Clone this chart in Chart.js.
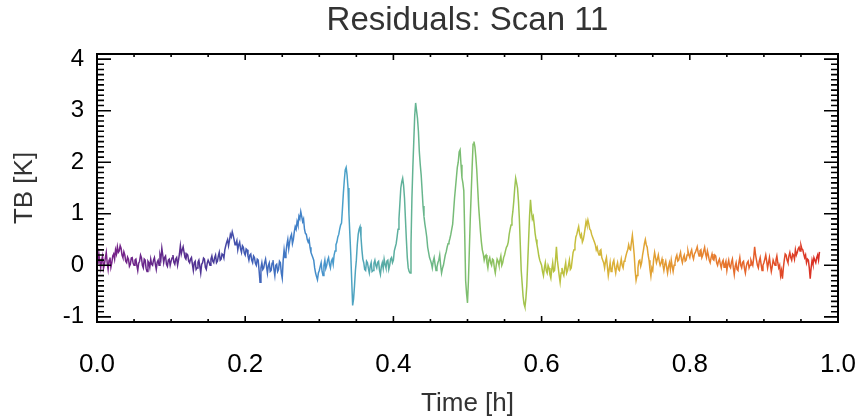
<!DOCTYPE html>
<html>
<head>
<meta charset="utf-8">
<script src="https://cdn.jsdelivr.net/npm/chart.js@4"></script>
<style>
html,body{margin:0;padding:0;background:#fff;}
#wrap{width:859px;height:419px;}
</style>
</head>
<body>
<div id="wrap"><canvas id="c" width="859" height="419"></canvas></div>
<script>
// ---- data ----
const chartTitle = 'Residuals: Scan 11';
const xTitle = 'Time [h]';
const yTitle = 'TB [K]';
const xTickValues = [0.0, 0.2, 0.4, 0.6, 0.8, 1.0];
const yTickValues = [-1, 0, 1, 2, 3, 4];
const sampleStep = 0.0025; // hours between main samples; a second set sits half-way between them

// residual TB [K], main samples 0 .. 0.2 h
const tbPart1 = [
  0.12, 0.22, -0.05, 0.18, 0.02, 0.25, -0.08, 0.15, 0.05, 0.22,
  0.30, 0.36, 0.28, 0.33, 0.15, 0.20, 0.05, 0.12, 0.02, 0.15,
  0.00, 0.12, -0.10, 0.08, 0.15, -0.05, 0.10, -0.12, 0.05, 0.12,
  0.00, 0.15, -0.08, 0.10, 0.20, 0.33, 0.05, 0.18, -0.02, 0.12,
  0.08, 0.20, 0.02, 0.15, 0.10, 0.38, 0.30, 0.25, 0.12, 0.20,
  0.05, 0.15, -0.10, 0.08, -0.05, 0.10, -0.15, 0.05, 0.12, -0.08,
  0.10, 0.00, 0.18, 0.05, 0.20, 0.08, 0.25, 0.12, 0.20, 0.30,
  0.45, 0.38, 0.60, 0.65, 0.50, 0.42, 0.30, 0.45, 0.25, 0.35
];
const tbMid1 = [
  0.02, 0.08, 0.10, -0.06, 0.14, 0.05, 0.10, -0.04, 0.18, 0.12,
  0.22, 0.25, 0.38, 0.20, 0.26, 0.08, 0.16, -0.02, 0.14, 0.04,
  0.10, 0.00, 0.04, 0.20, 0.00, 0.12, -0.06, 0.08, -0.04, 0.02,
  0.10, 0.02, 0.06, 0.00, 0.12, 0.20, 0.15, 0.02, 0.10, 0.00,
  0.14, 0.06, 0.12, 0.00, 0.22, 0.22, 0.36, 0.15, 0.22, 0.08,
  0.12, 0.02, 0.05, -0.08, 0.06, -0.02, 0.02, 0.14, -0.04, 0.04,
  0.06, 0.12, 0.08, 0.15, 0.05, 0.18, 0.10, 0.22, 0.14, 0.38,
  0.50, 0.48, 0.55, 0.58, 0.40, 0.48, 0.40, 0.32, 0.38, 0.24
];
// 0.2 .. 0.4 h
const tbPart2 = [
  0.20, 0.30, 0.10, 0.22, 0.05, 0.15, 0.00, 0.10, -0.33, 0.05,
  -0.05, 0.12, -0.15, 0.05, -0.10, 0.10, -0.20, 0.02, -0.08, 0.05,
  -0.25, 0.30, 0.25, 0.50, 0.45, 0.60, 0.50, 0.75, 0.85, 0.95,
  1.04, 0.85, 0.70, 0.60, 0.45, 0.35, 0.20, 0.10, -0.15, -0.28,
  -0.10, 0.05, -0.20, 0.10, 0.00, 0.15, -0.05, 0.12, 0.20, 0.40,
  0.55, 0.70, 0.82, 1.40, 1.85, 1.75, 1.00, 0.20, -0.78, -0.40,
  0.10, 0.60, 0.75, 0.30, 0.05, -0.10, 0.05, -0.15, 0.05, -0.10,
  0.10, -0.05, 0.08, -0.18, 0.05, 0.12, -0.05, 0.10, 0.00, 0.15
];
const tbMid2 = [
  0.32, 0.18, 0.20, 0.10, 0.18, 0.04, 0.12, -0.10, -0.05, -0.08,
  0.05, -0.02, 0.00, -0.12, 0.04, -0.08, 0.00, -0.12, 0.08, -0.15,
  0.10, 0.15, 0.40, 0.32, 0.55, 0.42, 0.65, 0.70, 0.78, 0.90,
  0.95, 0.90, 0.62, 0.50, 0.50, 0.25, 0.15, -0.05, -0.22, -0.15,
  -0.02, -0.12, 0.00, -0.06, 0.10, 0.02, 0.08, 0.02, 0.28, 0.45,
  0.60, 0.78, 1.10, 1.65, 1.90, 1.50, 0.60, -0.30, -0.65, -0.10,
  0.40, 0.70, 0.55, 0.12, -0.08, 0.08, -0.06, -0.02, -0.12, 0.04,
  0.00, 0.06, -0.10, -0.02, -0.06, 0.02, 0.08, -0.08, 0.12, 0.05
];
// 0.4 .. 0.6 h
const tbPart3 = [
  0.10, 0.35, 0.55, 0.90, 1.50, 1.69, 1.30, 0.50, -0.05, -0.15,
  1.30, 2.40, 3.15, 2.85, 2.20, 1.75, 1.15, 0.80, 0.55, 0.25,
  0.10, -0.05, 0.15, -0.10, 0.05, 0.20, -0.15, 0.00, 0.20, 0.35,
  0.45, 0.60, 0.80, 1.30, 1.70, 2.00, 2.24, 1.70, 1.45, -0.30,
  -0.73, 0.30, 1.40, 2.35, 2.30, 1.85, 1.15, 0.65, 0.30, 0.10,
  0.20, -0.05, 0.15, 0.00, 0.10, -0.15, 0.12, 0.00, 0.18, 0.05,
  0.20, 0.35, 0.45, 0.70, 0.90, 1.25, 1.69, 1.50, 0.90, -0.10,
  -0.60, -0.81, -0.40, 0.50, 1.27, 0.90, 0.80, 0.50, 0.30, 0.10
];
const tbMid3 = [
  0.28, 0.42, 0.70, 1.20, 1.62, 1.55, 0.90, 0.15, -0.12, 0.40,
  1.90, 2.90, 3.00, 2.60, 1.95, 1.45, 0.95, 0.68, 0.35, 0.15,
  0.04, 0.08, 0.02, -0.04, 0.10, 0.00, -0.06, 0.10, 0.26, 0.42,
  0.52, 0.70, 1.05, 1.50, 1.90, 2.20, 1.95, 1.60, 0.60, -0.55,
  -0.30, 0.90, 1.90, 2.40, 2.10, 1.50, 0.90, 0.45, 0.22, 0.18,
  0.05, 0.10, 0.05, 0.12, -0.05, 0.00, 0.08, 0.10, 0.00, 0.15,
  0.28, 0.38, 0.60, 0.78, 1.05, 1.50, 1.60, 1.25, 0.40, -0.35,
  -0.75, -0.65, 0.05, 0.95, 1.05, 0.95, 0.62, 0.40, 0.18, 0.05
];
// 0.6 .. 0.8 h
const tbPart4 = [
  0.00, -0.20, 0.05, -0.15, -0.05, -0.25, 0.05, -0.10, 0.36, -0.05,
  -0.33, -0.05, -0.20, 0.05, -0.10, 0.10, -0.05, 0.25, 0.40, 0.60,
  0.75, 0.55, 0.45, 0.60, 0.85, 0.88, 0.70, 0.60, 0.50, 0.40,
  0.35, 0.20, 0.30, 0.10, -0.05, 0.15, -0.20, 0.05, -0.10, 0.10,
  -0.15, 0.05, -0.10, 0.12, -0.05, 0.10, 0.25, 0.40, 0.30, 0.58,
  0.20, -0.29, -0.05, 0.10, 0.05, 0.30, 0.50, 0.35, 0.10, -0.21,
  -0.10, 0.25, 0.05, 0.20, 0.00, 0.12, -0.10, 0.08, -0.15, 0.05,
  0.10, -0.12, 0.05, 0.20, 0.10, 0.25, 0.05, 0.20, 0.10, 0.28
];
const tbMid4 = [
  -0.12, -0.05, -0.10, 0.00, -0.18, -0.08, -0.12, 0.10, 0.10, -0.20,
  -0.15, -0.15, -0.05, -0.15, 0.00, -0.08, 0.10, 0.30, 0.55, 0.68,
  0.62, 0.60, 0.50, 0.72, 0.78, 0.80, 0.68, 0.55, 0.45, 0.30,
  0.25, 0.28, 0.15, 0.05, 0.08, -0.02, -0.08, -0.12, 0.05, -0.05,
  -0.02, -0.08, 0.02, 0.00, 0.08, 0.18, 0.30, 0.32, 0.45, 0.40,
  -0.10, -0.20, 0.08, -0.02, 0.20, 0.42, 0.40, 0.20, -0.08, -0.05,
  0.12, 0.15, 0.12, 0.08, 0.05, 0.00, 0.02, -0.04, -0.02, -0.08,
  -0.02, 0.00, 0.15, 0.08, 0.18, 0.12, 0.15, 0.08, 0.20, 0.20
];
// 0.8 .. 0.975 h
const tbPart5 = [
  0.15, 0.30, 0.12, 0.25, 0.36, 0.18, 0.30, 0.20, 0.35, 0.15,
  0.20, 0.05, 0.22, 0.10, 0.18, 0.00, 0.12, -0.05, 0.10, 0.02,
  -0.10, 0.10, -0.05, 0.12, -0.18, 0.05, -0.10, 0.15, -0.05, 0.08,
  -0.15, 0.05, -0.05, 0.10, 0.00, 0.36, 0.10, -0.05, 0.15, -0.10,
  0.05, 0.20, -0.05, 0.15, -0.12, 0.10, 0.00, 0.18, -0.05, -0.20,
  -0.26, 0.10, 0.20, 0.05, 0.25, 0.10, 0.20, 0.30, 0.25, 0.35,
  0.39, 0.30, 0.15, 0.05, 0.10, -0.26, 0.10, 0.15, 0.05, 0.20, 0.26
];
const tbMid5 = [
  0.25, 0.18, 0.22, 0.30, 0.25, 0.28, 0.15, 0.28, 0.22, 0.28,
  0.10, 0.15, 0.12, 0.20, 0.05, 0.08, 0.02, 0.06, -0.04, 0.08,
  0.02, -0.02, 0.06, -0.05, -0.02, -0.08, 0.05, 0.00, 0.06, -0.06,
  -0.02, 0.08, 0.00, 0.05, 0.15, 0.20, 0.00, 0.08, 0.02, 0.00,
  0.12, 0.08, 0.05, 0.00, -0.02, 0.05, 0.10, 0.05, 0.00, -0.10,
  -0.05, 0.22, 0.10, 0.18, 0.15, 0.22, 0.12, 0.20, 0.32, 0.28,
  0.32, 0.22, 0.20, 0.12, -0.05, -0.05, 0.02, 0.10, 0.15, 0.10
];

// colour ramp of the trace along time
const rampTimes  = [0.0, 0.1, 0.15, 0.2, 0.27, 0.33, 0.38, 0.43, 0.5, 0.55, 0.6, 0.65, 0.7, 0.75, 0.8, 0.85, 0.9, 1.0];
const rampColors = ['#7d1f87', '#5e2a8c', '#4b3796', '#415ab4', '#4180c8', '#4aa0cc', '#55aaa8', '#64b492',
                    '#7dbe6e', '#93c35a', '#afc341', '#c8be3c', '#dcaf37', '#e1a032', '#e68c32', '#e6732d',
                    '#e45528', '#d51f23'];

// ---- build ----
const tbMain = [].concat(tbPart1, tbPart2, tbPart3, tbPart4, tbPart5);
const tbMid = [].concat(tbMid1, tbMid2, tbMid3, tbMid4, tbMid5);
const points = [];
tbMain.forEach((v, i) => {
  points.push({ x: i * sampleStep, y: v });
  if (i < tbMid.length) points.push({ x: (i + 0.5) * sampleStep, y: tbMid[i] });
});

const FONT = "'Liberation Sans', Arial, Helvetica, sans-serif";

const idlBox = {
  id: 'idlBox',
  afterDraw(chart) {
    const { ctx, chartArea: a, scales: { x, y } } = chart;
    ctx.save();
    ctx.strokeStyle = '#000';
    ctx.lineWidth = 1.6;
    ctx.beginPath();
    for (let k = 0; k <= 20; k++) {
      const px = x.getPixelForValue(k * 0.05);
      const len = (k % 4 === 0) ? 6 : 3;
      ctx.moveTo(px, a.bottom); ctx.lineTo(px, a.bottom - len);
      ctx.moveTo(px, a.top); ctx.lineTo(px, a.top + len);
    }
    for (let k = -11; k <= 41; k++) {
      const py = y.getPixelForValue(k / 10);
      const len = (k % 10 === 0) ? 14 : 7;
      ctx.moveTo(a.left, py); ctx.lineTo(a.left + len, py);
      ctx.moveTo(a.right, py); ctx.lineTo(a.right - len, py);
    }
    ctx.stroke();
    ctx.lineWidth = 2;
    ctx.strokeRect(a.left, a.top, a.right - a.left, a.bottom - a.top);
    ctx.restore();
  }
};

new Chart(document.getElementById('c'), {
  type: 'line',
  data: {
    datasets: [{
      data: points,
      xAxisID: 'x',
      yAxisID: 'y',
      borderWidth: 1.5,
      pointRadius: 0,
      tension: 0,
      borderColor: (context) => {
        const chart = context.chart;
        const { chartArea, scales } = chart;
        if (!chartArea || !scales.x) return rampColors[0];
        const x0 = scales.x.getPixelForValue(0), x1 = scales.x.getPixelForValue(1);
        const g = chart.ctx.createLinearGradient(x0, 0, x1, 0);
        rampTimes.forEach((t, i) => g.addColorStop(t, rampColors[i]));
        return g;
      }
    }]
  },
  options: {
    responsive: false,
    animation: false,
    devicePixelRatio: 1,
    layout: { padding: { left: 0, right: 21, top: 0, bottom: 0 } },
    plugins: {
      legend: { display: false },
      tooltip: { enabled: false },
      title: { display: false }
    },
    scales: {
      xTop: {
        type: 'linear', position: 'top', min: 0, max: 1,
        border: { display: false },
        grid: { display: false, drawTicks: false },
        ticks: { display: false },
        title: {
          display: true, text: chartTitle, color: '#333',
          font: { family: FONT, size: 33, weight: 'normal', lineHeight: 1.2 },
          padding: { top: 1, bottom: 0 }
        },
        afterFit: (s) => { s.height = 54; s.paddingLeft = 0; s.paddingRight = 0; }
      },
      x: {
        type: 'linear', position: 'bottom', min: 0, max: 1,
        border: { display: false },
        grid: { display: false, drawTicks: false },
        afterBuildTicks: (s) => { s.ticks = xTickValues.map(v => ({ value: v })); },
        ticks: {
          color: '#000', font: { family: FONT, size: 26 }, padding: 27,
          maxRotation: 0, autoSkip: false,
          callback: (v) => Number(v).toFixed(1)
        },
        title: {
          display: true, text: xTitle, color: '#333',
          font: { family: FONT, size: 26, lineHeight: 1.2 }, padding: { top: 0, bottom: 0 }
        },
        afterFit: (s) => { s.height = 97; s.paddingLeft = 0; s.paddingRight = 0; }
      },
      y: {
        type: 'linear', min: -1.1, max: 4.1,
        border: { display: false },
        grid: { display: false, drawTicks: false },
        afterBuildTicks: (s) => { s.ticks = yTickValues.map(v => ({ value: v })); },
        ticks: {
          color: '#000', font: { family: FONT, size: 24 }, padding: 13,
          autoSkip: false, callback: (v) => String(v)
        },
        title: {
          display: true, text: yTitle, color: '#333',
          font: { family: FONT, size: 26, lineHeight: 1.2 }, padding: { top: 9, bottom: 0 }
        },
        afterFit: (s) => { s.width = 97; }
      }
    }
  },
  plugins: [idlBox]
});
</script>
</body>
</html>
